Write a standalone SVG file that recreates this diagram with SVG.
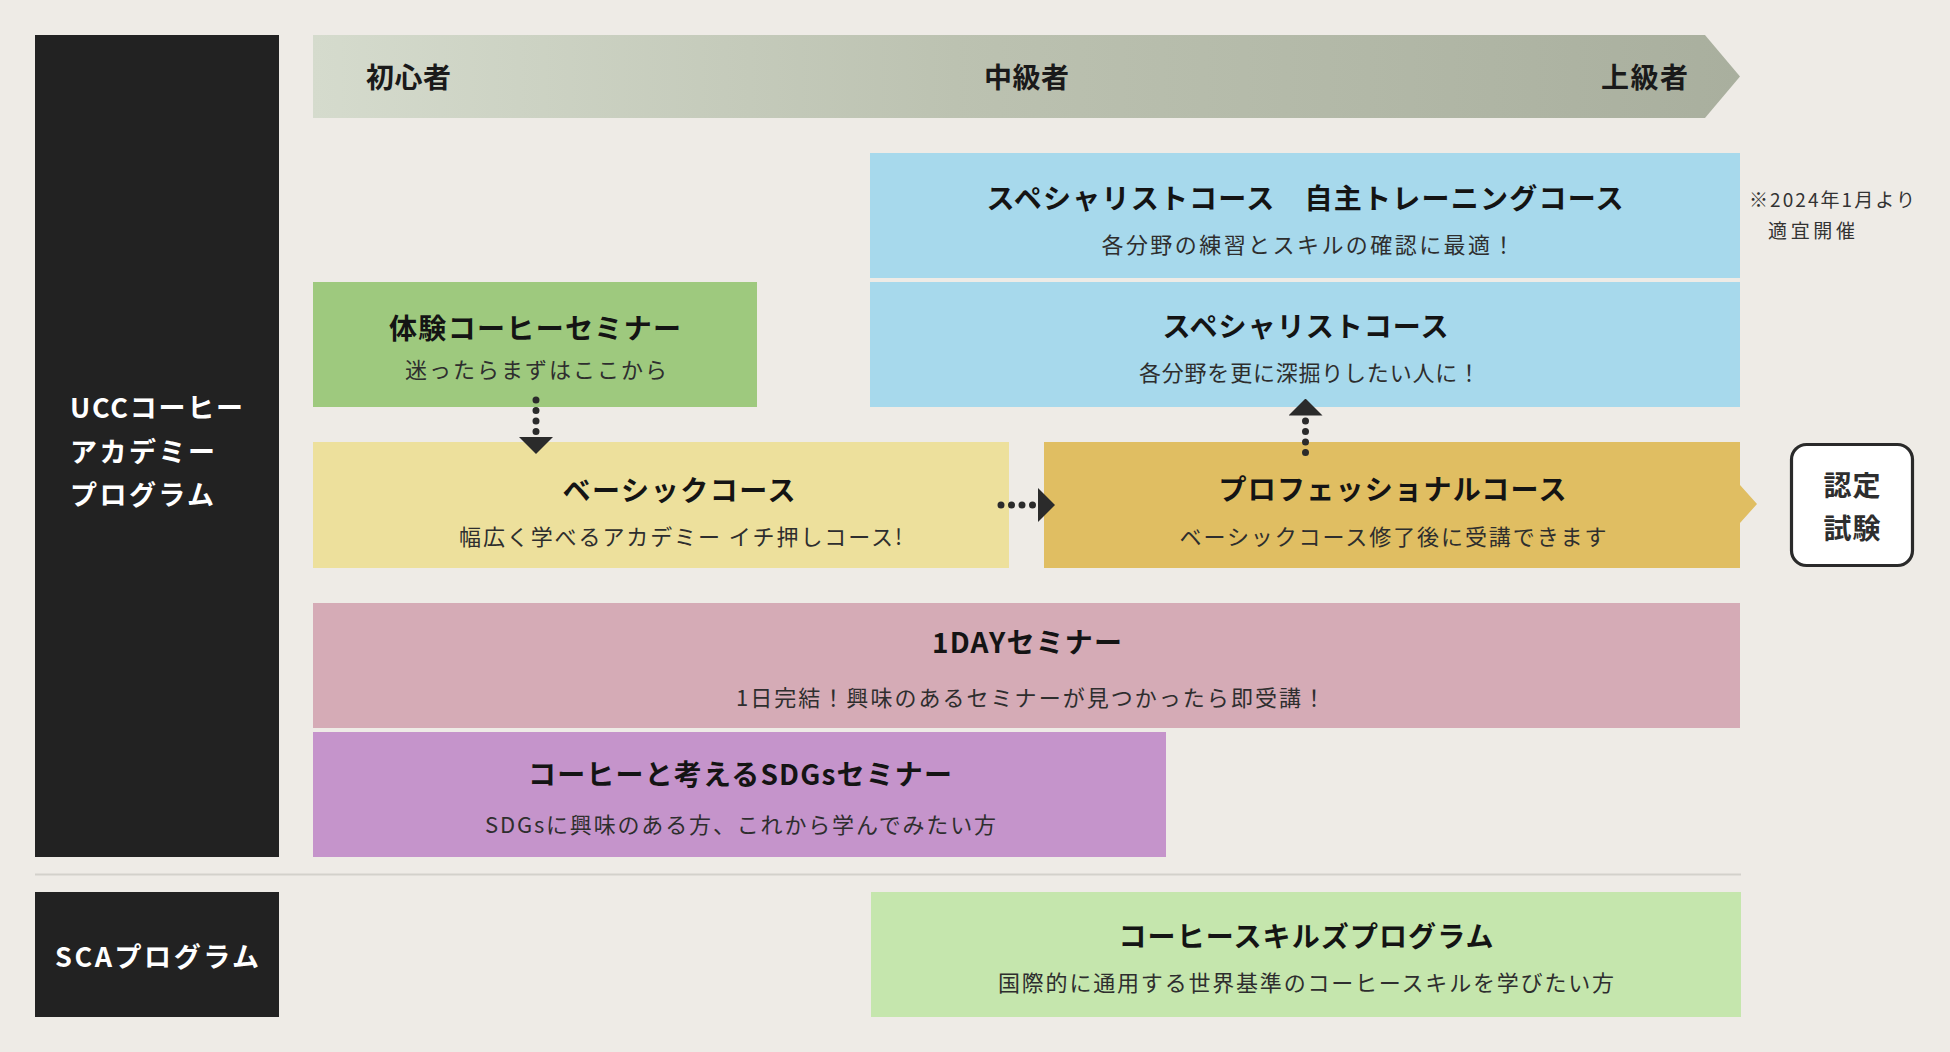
<svg xmlns="http://www.w3.org/2000/svg" width="1950" height="1052" viewBox="0 0 1950 1052">
  <defs>
    <linearGradient id="lvl" x1="313" y1="0" x2="1740" y2="0" gradientUnits="userSpaceOnUse">
      <stop offset="0" stop-color="#d5dbcd"/>
      <stop offset="0.45" stop-color="#bcc2b1"/>
      <stop offset="1" stop-color="#a9af9e"/>
    </linearGradient>
    <marker id="head" viewBox="0 0 22 34" refX="0" refY="17" markerWidth="22" markerHeight="34" markerUnits="userSpaceOnUse" orient="auto">
      <path d="M5,0 L22,17 L5,34 Z" fill="#2b2b2b"/>
    </marker>
    <style>
      text { font-family: "Noto Sans CJK JP", "Noto Sans", sans-serif; }
      .hdr { font-size: 28px; font-weight: 700; fill: #1a1a1a; }
      .ttl { font-size: 28px; font-weight: 700; fill: #141414; text-anchor: middle; }
      .sub { font-size: 22px; font-weight: 400; fill: #2e2e2e; text-anchor: middle; }
      .note { font-size: 19px; font-weight: 400; fill: #333333; }
      .lbl { font-size: 27px; font-weight: 700; fill: #ffffff; }
      .blk { fill: #222222; }
      .conn { fill: none; stroke: #2b2b2b; stroke-width: 7; stroke-linecap: round; stroke-dasharray: 0 10.5; }
    </style>
  </defs>

  <rect x="0" y="0" width="1950" height="1052" fill="#eeebe6"/>

  <g id="ucc-program">
    <rect class="blk" x="35" y="35" width="244" height="822"/>
    <text class="lbl" x="70" y="418" textLength="173" lengthAdjust="spacing">UCCコーヒー</text>
    <text class="lbl" x="70" y="462" textLength="145" lengthAdjust="spacing">アカデミー</text>
    <text class="lbl" x="70" y="505" textLength="144" lengthAdjust="spacing">プログラム</text>
  </g>

  <g id="level-bar">
    <polygon points="313,35 1705,35 1740,76.5 1705,118 313,118" fill="url(#lvl)"/>
    <text class="hdr" x="366" y="88" textLength="85" lengthAdjust="spacing">初心者</text>
    <text class="hdr" x="984" y="88" textLength="85" lengthAdjust="spacing">中級者</text>
    <text class="hdr" x="1601" y="88" textLength="87" lengthAdjust="spacing">上級者</text>
  </g>

  <g id="specialist-self-training">
    <rect x="870" y="153" width="870" height="125" fill="#a7d9ec"/>
    <text class="ttl" x="1305" y="209" textLength="637" lengthAdjust="spacing">スペシャリストコース　自主トレーニングコース</text>
    <text class="sub" x="1308" y="253" textLength="413" lengthAdjust="spacing">各分野の練習とスキルの確認に最適！</text>
  </g>

  <g id="note">
    <text class="note" x="1749" y="207" textLength="166" lengthAdjust="spacing">※2024年1月より</text>
    <text class="note" x="1768" y="238" textLength="87" lengthAdjust="spacing">適宜開催</text>
  </g>

  <g id="trial-seminar">
    <rect x="313" y="282" width="444" height="125" fill="#9ec97e"/>
    <text class="ttl" x="535" y="339" textLength="292" lengthAdjust="spacing">体験コーヒーセミナー</text>
    <text class="sub" x="536" y="378" textLength="262" lengthAdjust="spacing">迷ったらまずはここから</text>
  </g>

  <g id="specialist">
    <rect x="870" y="282" width="870" height="125" fill="#a7d9ec"/>
    <text class="ttl" x="1305.5" y="337" textLength="286" lengthAdjust="spacing">スペシャリストコース</text>
    <text class="sub" x="1309.5" y="381" textLength="341" lengthAdjust="spacing">各分野を更に深掘りしたい人に！</text>
  </g>

  <g id="basic">
    <rect x="313" y="442" width="696" height="126" fill="#ede09c"/>
    <text class="ttl" x="679" y="501" textLength="233" lengthAdjust="spacing">ベーシックコース</text>
    <text class="sub" x="680.5" y="545" textLength="443" lengthAdjust="spacing">幅広く学べるアカデミー イチ押しコース!</text>
  </g>

  <g id="professional">
    <path d="M1044,442 H1740 V485 L1757,504 L1740,523 V568 H1044 Z" fill="#e0be62"/>
    <text class="ttl" x="1392.5" y="500" textLength="348" lengthAdjust="spacing">プロフェッショナルコース</text>
    <text class="sub" x="1393" y="545" textLength="427" lengthAdjust="spacing">ベーシックコース修了後に受講できます</text>
  </g>

  <g id="certification-exam">
    <rect x="1791.5" y="444.5" width="121" height="121" rx="15" ry="15" fill="#ffffff" stroke="#2a2a2a" stroke-width="3.2"/>
    <text class="ttl" x="1852" y="496" style="fill:#2e2e2e" textLength="57" lengthAdjust="spacing">認定</text>
    <text class="ttl" x="1852" y="539" style="fill:#2e2e2e" textLength="57" lengthAdjust="spacing">試験</text>
  </g>

  <g id="oneday-seminar">
    <rect x="313" y="603" width="1427" height="125" fill="#d5abb6"/>
    <text class="ttl" x="1027" y="653" textLength="190" lengthAdjust="spacing">1DAYセミナー</text>
    <text class="sub" x="1030.5" y="706" textLength="589" lengthAdjust="spacing">1日完結！興味のあるセミナーが見つかったら即受講！</text>
  </g>

  <g id="sdgs-seminar">
    <rect x="313" y="732" width="853" height="125" fill="#c594cb"/>
    <text class="ttl" x="740" y="785" textLength="424" lengthAdjust="spacing">コーヒーと考えるSDGsセミナー</text>
    <text class="sub" x="740.5" y="833" textLength="511" lengthAdjust="spacing">SDGsに興味のある方、これから学んでみたい方</text>
  </g>

  <g id="divider">
    <rect x="35" y="873.5" width="1706" height="2" fill="#d3d1cb"/>
  </g>

  <g id="sca-program">
    <rect class="blk" x="35" y="892" width="244" height="125"/>
    <text class="lbl" x="157" y="967" text-anchor="middle" textLength="204" lengthAdjust="spacing">SCAプログラム</text>
  </g>

  <g id="coffee-skills-program">
    <rect x="871" y="892" width="870" height="125" fill="#c5e6ad"/>
    <text class="ttl" x="1306" y="947" textLength="375" lengthAdjust="spacing">コーヒースキルズプログラム</text>
    <text class="sub" x="1306" y="991" textLength="616" lengthAdjust="spacing">国際的に通用する世界基準のコーヒースキルを学びたい方</text>
  </g>

  <g id="connectors">
    <line class="conn" x1="536" y1="400" x2="536" y2="432" marker-end="url(#head)"/>
    <line class="conn" x1="1001" y1="505" x2="1033" y2="505" marker-end="url(#head)"/>
    <line class="conn" x1="1305.5" y1="452.5" x2="1305.5" y2="420.5" marker-end="url(#head)"/>
  </g>
</svg>
